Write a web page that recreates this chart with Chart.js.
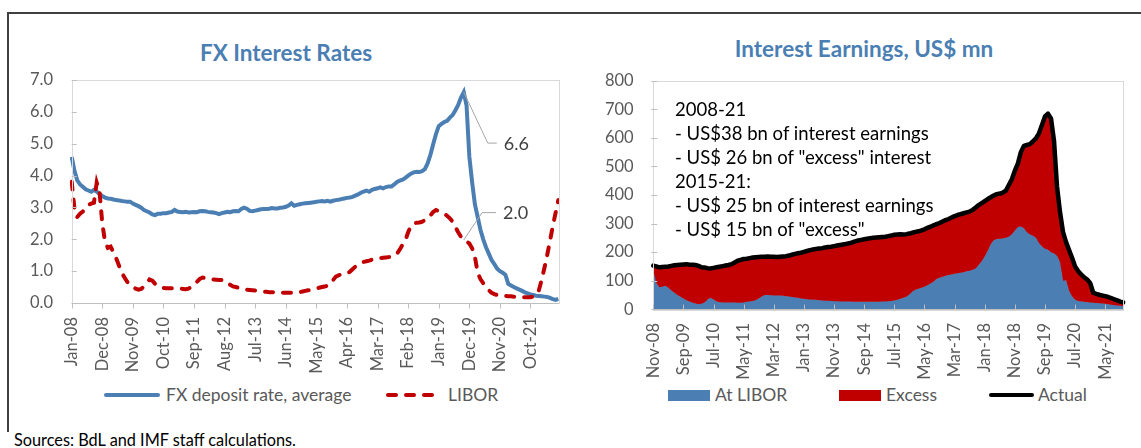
<!DOCTYPE html>
<html>
<head>
<meta charset="utf-8">
<title>FX interest rates and interest earnings</title>
<script src="https://cdn.jsdelivr.net/npm/chart.js@4.4.1/dist/chart.umd.min.js"></script>
<style>
  html, body { margin: 0; padding: 0; background: #fff; }
  body { position: relative; width: 1141px; height: 448px; overflow: hidden; font-family: Lato, "Open Sans", sans-serif; }
  .frame { position: absolute; left: 7px; top: 12px; width: 1140px; height: 418px; border-top: 2px solid #404040; border-left: 2px solid #404040; }
  .panel { position: absolute; top: 0; height: 380px; }
  .t { position: absolute; white-space: nowrap; line-height: 20px; height: 20px; }
  .title { font-weight: 700; font-size: 22.5px; color: #4b7fb3; transform: translateX(-50%); }
  .leg { font-size: 17.5px; color: #595959; }
  .note { position: absolute; left: 675px; top: 97px; font-size: 18.5px; line-height: 24px; color: #000; white-space: nowrap; }
  .swatch { position: absolute; }
</style>
</head>
<body>
<div class="frame"></div>

<div class="t title" style="left:286px; top:43px;">FX Interest Rates</div>
<div class="t title" style="left:864px; top:39px;">Interest Earnings, US$ mn</div>

<div class="panel" style="left:0; width:570px;"><canvas id="rates"></canvas></div>
<div class="panel" style="left:570px; width:571px;"><canvas id="earnings"></canvas></div>

<div class="note">2008-21<br>- US$38 bn of interest earnings<br>- US$ 26 bn of "excess" interest<br>2015-21:<br>- US$ 25 bn of interest earnings<br>- US$ 15 bn of "excess"</div>

<!-- legend, left panel -->
<div class="swatch" style="left:104px; top:393px; width:56px; height:4px; background:#4b7fb3; border-radius:2px;"></div>
<div class="t leg" style="left:166px; top:385px;">FX deposit rate, average</div>
<svg class="swatch" style="left:384px; top:389px;" width="62" height="12">
  <line x1="4" y1="6" x2="58" y2="6" stroke="#c00000" stroke-width="4" stroke-linecap="round" stroke-dasharray="8 10"></line>
</svg>
<div class="t leg" style="left:448px; top:385px;">LIBOR</div>

<!-- legend, right panel -->
<div class="swatch" style="left:668px; top:390px; width:42px; height:11px; background:#4b7fb3;"></div>
<div class="t leg" style="left:715px; top:385px;">At LIBOR</div>
<div class="swatch" style="left:839px; top:390px; width:42px; height:11px; background:#c00000;"></div>
<div class="t leg" style="left:886px; top:385px;">Excess</div>
<div class="swatch" style="left:989px; top:393px; width:45px; height:4px; background:#000; border-radius:2px;"></div>
<div class="t leg" style="left:1038px; top:385px;">Actual</div>

<div class="t" style="left:14px; top:430px; font-size:16.3px; color:#000;">Sources: BdL and IMF staff calculations.</div>

<script>
// monthly series, Jan-08 onwards (percent)
const fxDepositRate = [
  4.59, 4.15, 3.85, 3.72, 3.65, 3.57, 3.53, 3.49, 3.55, 3.50,
  3.42, 3.36, 3.31, 3.28, 3.27, 3.25, 3.23, 3.22, 3.20, 3.19,
  3.18, 3.18, 3.12, 3.08, 3.04, 2.99, 2.92, 2.88, 2.84, 2.78,
  2.76, 2.80, 2.80, 2.82, 2.82, 2.84, 2.86, 2.92, 2.87, 2.86,
  2.85, 2.86, 2.84, 2.85, 2.86, 2.85, 2.88, 2.89, 2.88, 2.86,
  2.85, 2.84, 2.82, 2.79, 2.82, 2.84, 2.86, 2.85, 2.88, 2.89,
  2.88, 2.95, 2.99, 2.96, 2.89, 2.88, 2.90, 2.92, 2.94, 2.95,
  2.95, 2.96, 2.98, 2.97, 2.97, 2.99, 3.00, 3.02, 3.06, 3.13,
  3.05, 3.08, 3.10, 3.12, 3.13, 3.14, 3.15, 3.16, 3.18, 3.19,
  3.20, 3.19, 3.21, 3.18, 3.21, 3.23, 3.24, 3.26, 3.28, 3.30,
  3.31, 3.33, 3.37, 3.41, 3.46, 3.50, 3.53, 3.49, 3.55, 3.58,
  3.60, 3.63, 3.60, 3.64, 3.66, 3.66, 3.72, 3.80, 3.84, 3.87,
  3.93, 4.00, 4.06, 4.10, 4.12, 4.11, 4.14, 4.20, 4.38, 4.65,
  4.98, 5.30, 5.55, 5.62, 5.68, 5.72, 5.82, 5.90, 6.05, 6.22,
  6.45, 6.62, 6.20, 4.60, 3.80, 3.10, 2.70, 2.30, 2.00, 1.75,
  1.55, 1.35, 1.22, 1.08, 1.00, 0.95, 0.88, 0.60, 0.55, 0.50,
  0.46, 0.42, 0.38, 0.33, 0.30, 0.27, 0.25, 0.23, 0.22, 0.21,
  0.20, 0.19, 0.16, 0.12, 0.10, 0.13
];
const libor = [
  3.81, 2.95, 2.70, 2.80, 2.87, 3.00, 3.08, 3.12, 3.15, 3.78,
  3.50, 2.50, 1.92, 1.73, 1.77, 1.60, 1.40, 1.18, 0.95, 0.80,
  0.66, 0.57, 0.50, 0.45, 0.42, 0.44, 0.52, 0.62, 0.74, 0.70,
  0.60, 0.55, 0.50, 0.47, 0.46, 0.46, 0.46, 0.46, 0.46, 0.45,
  0.44, 0.43, 0.45, 0.50, 0.58, 0.66, 0.75, 0.80, 0.78, 0.76,
  0.75, 0.74, 0.73, 0.72, 0.72, 0.70, 0.62, 0.57, 0.52, 0.50,
  0.48, 0.46, 0.44, 0.42, 0.41, 0.40, 0.39, 0.38, 0.37, 0.36,
  0.35, 0.34, 0.34, 0.33, 0.33, 0.33, 0.32, 0.32, 0.32, 0.32,
  0.32, 0.33, 0.34, 0.36, 0.38, 0.40, 0.41, 0.43, 0.45, 0.48,
  0.50, 0.52, 0.54, 0.60, 0.72, 0.83, 0.87, 0.90, 0.92, 0.93,
  0.98, 1.06, 1.14, 1.20, 1.25, 1.29, 1.31, 1.33, 1.36, 1.38,
  1.40, 1.41, 1.42, 1.43, 1.44, 1.45, 1.48, 1.55, 1.68, 1.83,
  1.97, 2.22, 2.42, 2.50, 2.52, 2.53, 2.55, 2.60, 2.66, 2.75,
  2.86, 2.92, 2.88, 2.85, 2.80, 2.74, 2.66, 2.55, 2.38, 2.22,
  2.08, 1.98, 1.93, 1.87, 1.72, 1.45, 0.95, 0.75, 0.62, 0.50,
  0.40, 0.32, 0.28, 0.25, 0.23, 0.22, 0.22, 0.21, 0.21, 0.20,
  0.20, 0.19, 0.18, 0.18, 0.18, 0.18, 0.20, 0.25, 0.40, 0.72,
  1.10, 1.50, 1.95, 2.40, 2.82, 3.23
];

// monthly interest earnings, Nov-08 onwards (US$ mn)
const earnedAtLibor = [
  135, 92, 77, 79, 82, 75, 66, 58, 50, 44,
  38, 32, 27, 23, 20, 18, 19, 24, 34, 40,
  34, 27, 25, 24, 24, 24, 24, 24, 23, 23,
  24, 26, 27, 29, 32, 38, 45, 50, 50, 49,
  48, 48, 48, 47, 46, 45, 43, 41, 40, 38,
  37, 35, 34, 33, 33, 32, 31, 30, 30, 29,
  28, 28, 27, 27, 27, 27, 26, 26, 26, 26,
  26, 26, 26, 26, 26, 26, 27, 27, 28, 29,
  31, 33, 37, 40, 44, 52, 62, 68, 72, 75,
  79, 84, 90, 96, 106, 110, 114, 117, 120, 122,
  124, 126, 128, 130, 133, 135, 138, 143, 155, 168,
  185, 205, 228, 242, 246, 247, 248, 250, 254, 263,
  275, 288, 290, 284, 270, 262, 257, 250, 232, 220,
  212, 208, 200, 195, 187, 165, 100, 102, 65, 45,
  33, 29, 27, 26, 25, 24, 23, 22, 21, 20,
  19, 18, 16, 14, 13, 12, 11
];
const earnedActual = [
  153, 150, 147, 148, 149, 150, 152, 154, 155, 156,
  157, 158, 156, 156, 155, 152, 147, 146, 144, 143,
  145, 147, 149, 151, 153, 155, 158, 164, 170, 173,
  176, 177, 179, 181, 182, 183, 184, 184, 185, 184,
  184, 183, 184, 185, 186, 188, 191, 194, 196, 198,
  201, 204, 207, 209, 211, 213, 214, 216, 218, 219,
  221, 223, 225, 227, 229, 231, 234, 238, 241, 243,
  245, 247, 249, 250, 251, 252, 253, 254, 256, 258,
  261, 262, 263, 262, 263, 265, 268, 271, 273, 276,
  280, 285, 289, 294, 298, 302, 307, 312, 316, 321,
  326, 330, 333, 336, 339, 342, 348, 356, 365, 372,
  379, 386, 392, 398, 403, 405, 408, 415, 435, 455,
  485, 510, 550, 572, 575, 578, 588, 598, 616, 645,
  675, 685, 668, 590, 430, 340, 270, 235, 207, 180,
  150, 134, 122, 112, 104, 92, 58, 54, 51, 48,
  46, 43, 39, 35, 31, 27, 24
];

const MONTHS = ['Jan', 'Feb', 'Mar', 'Apr', 'May', 'Jun', 'Jul', 'Aug', 'Sep', 'Oct', 'Nov', 'Dec'];
function monthLabels(year, month, count) {
  const out = [];
  for (let k = 0; k < count; k++) {
    const m = (month + k) % 12;
    const y = year + Math.floor((month + k) / 12);
    out.push(MONTHS[m] + '-' + String(y % 100).padStart(2, '0'));
  }
  return out;
}
const rateMonths = monthLabels(2008, 0, fxDepositRate.length);     // Jan-08 ...
const earningMonths = monthLabels(2008, 10, earnedActual.length);  // Nov-08 ...

const BLUE = '#4b7fb3';
const RED = '#c00000';
const TICK_TEXT = '#595959';

Chart.defaults.font.family = 'Lato, "Open Sans", sans-serif';
Chart.defaults.color = TICK_TEXT;

// plot box, axis line and tick marks (Excel style)
const plotFrame = {
  id: 'plotFrame',
  afterDatasetsDraw(chart, args, opts) {
    const { ctx, chartArea: a, scales: { x, y } } = chart;
    ctx.save();
    ctx.lineWidth = 1;
    ctx.strokeStyle = '#d9d9d9';
    ctx.strokeRect(Math.round(a.left) + 0.5, Math.round(a.top) + 0.5, Math.round(a.width), Math.round(a.height));
    ctx.strokeStyle = '#bfbfbf';
    ctx.beginPath();
    const by = Math.round(a.bottom) + 0.5;
    ctx.moveTo(a.left, by);
    ctx.lineTo(a.right, by);
    x.ticks.forEach((t, i) => {
      if (t.label == null) return;
      const px = Math.round(x.getPixelForTick(i)) + 0.5;
      ctx.moveTo(px, by);
      ctx.lineTo(px, by + opts.xTick);
    });
    y.ticks.forEach((t, i) => {
      const py = Math.round(y.getPixelForTick(i)) + 0.5;
      ctx.moveTo(a.left + opts.yTickFrom, py);
      ctx.lineTo(a.left + opts.yTickTo, py);
    });
    ctx.stroke();
    ctx.restore();
  }
};

// value labels with elbow leader lines
const leaderLabels = {
  id: 'leaderLabels',
  afterDatasetsDraw(chart, args, opts) {
    if (!opts.items) return;
    const { ctx } = chart;
    ctx.save();
    ctx.strokeStyle = '#a6a6a6';
    ctx.lineWidth = 1;
    ctx.fillStyle = '#404040';
    ctx.font = '18px Lato, sans-serif';
    ctx.textBaseline = 'middle';
    opts.items.forEach(item => {
      const pt = chart.getDatasetMeta(item.dataset).data[item.index];
      const value = chart.data.datasets[item.dataset].data[item.index];
      const ex = pt.x + item.dx;
      const ey = pt.y + item.dy;
      ctx.beginPath();
      ctx.moveTo(pt.x, pt.y);
      ctx.lineTo(ex, ey);
      ctx.lineTo(ex + item.run, ey);
      ctx.stroke();
      ctx.fillText(value.toFixed(1), ex + item.run + 7, ey + 1);
    });
    ctx.restore();
  }
};

function fixAxis(size, prop) {
  return scale => {
    scale[prop] = size;
    scale.paddingLeft = 0;
    scale.paddingRight = 0;
  };
}

function monthAxis(every, topGap, height) {
  return {
    type: 'category',
    offset: false,
    grid: { display: false, drawTicks: false },
    border: { display: false },
    ticks: {
      autoSkip: false,
      minRotation: 90,
      maxRotation: 90,
      padding: topGap,
      color: TICK_TEXT,
      font: { size: 16.5 },
      callback: function (v, i) { return i % every === 0 ? this.getLabelForValue(v) : null; }
    },
    afterFit: fixAxis(height, 'height')
  };
}

const peak = fxDepositRate.indexOf(Math.max(...fxDepositRate));

new Chart(document.getElementById('rates'), {
  type: 'line',
  data: {
    labels: rateMonths,
    datasets: [
      {
        label: 'FX deposit rate, average',
        data: fxDepositRate,
        borderColor: BLUE,
        borderWidth: 4,
        pointRadius: 0,
        tension: 0,
        fill: false,
        order: 1
      },
      {
        label: 'LIBOR',
        data: libor,
        borderColor: RED,
        borderWidth: 4,
        borderDash: [8, 10],
        borderCapStyle: 'round',
        pointRadius: 0,
        tension: 0,
        fill: false,
        order: 0
      }
    ]
  },
  options: {
    responsive: true,
    maintainAspectRatio: false,
    devicePixelRatio: 1,
    animation: false,
    layout: { padding: { left: 0, top: 80, right: 11.7, bottom: 0 } },
    scales: {
      x: monthAxis(11, 14, 77),
      y: {
        min: 0,
        max: 7,
        grid: { display: false, drawTicks: false },
        border: { display: false },
        ticks: {
          stepSize: 1,
          padding: 18.7,
          color: TICK_TEXT,
          font: { size: 16.5 },
          callback: v => v.toFixed(1)
        },
        afterFit: fixAxis(71.7, 'width')
      }
    },
    plugins: {
      legend: { display: false },
      tooltip: { enabled: false },
      plotFrame: { xTick: 5, yTickFrom: 0, yTickTo: 5 },
      leaderLabels: {
        items: [
          { dataset: 0, index: peak, dx: 24, dy: 51, run: 9 },
          { dataset: 1, index: peak, dx: 18.3, dy: -27.3, run: 14 }
        ]
      }
    }
  },
  plugins: [plotFrame, leaderLabels]
});

new Chart(document.getElementById('earnings'), {
  type: 'line',
  data: {
    labels: earningMonths,
    datasets: [
      {
        label: 'At LIBOR',
        data: earnedAtLibor,
        borderColor: BLUE,
        borderWidth: 1,
        backgroundColor: BLUE,
        pointRadius: 0,
        tension: 0,
        fill: 'origin',
        order: 2
      },
      {
        // red band sits between the LIBOR-rate earnings and actual earnings
        label: 'Excess',
        data: earnedActual,
        borderColor: RED,
        borderWidth: 1,
        backgroundColor: RED,
        pointRadius: 0,
        tension: 0,
        fill: '-1',
        order: 1
      },
      {
        label: 'Actual',
        data: earnedActual,
        borderColor: '#000',
        borderWidth: 4.5,
        borderJoinStyle: 'round',
        borderCapStyle: 'round',
        pointRadius: 0,
        tension: 0,
        fill: false,
        order: 0
      }
    ]
  },
  options: {
    responsive: true,
    maintainAspectRatio: false,
    devicePixelRatio: 1,
    animation: false,
    layout: { padding: { left: 0, top: 80.7, right: 17.7, bottom: 0 } },
    scales: {
      x: monthAxis(10, 13.7, 70.7),
      y: {
        min: 0,
        max: 800,
        grid: { display: false, drawTicks: false },
        border: { display: false },
        ticks: {
          stepSize: 100,
          padding: 19.7,
          color: TICK_TEXT,
          font: { size: 16.5 }
        },
        afterFit: fixAxis(83.3, 'width')
      }
    },
    plugins: {
      legend: { display: false },
      tooltip: { enabled: false },
      plotFrame: { xTick: -5, yTickFrom: -2, yTickTo: 4 }
    }
  },
  plugins: [plotFrame]
});
</script>
</body>
</html>
